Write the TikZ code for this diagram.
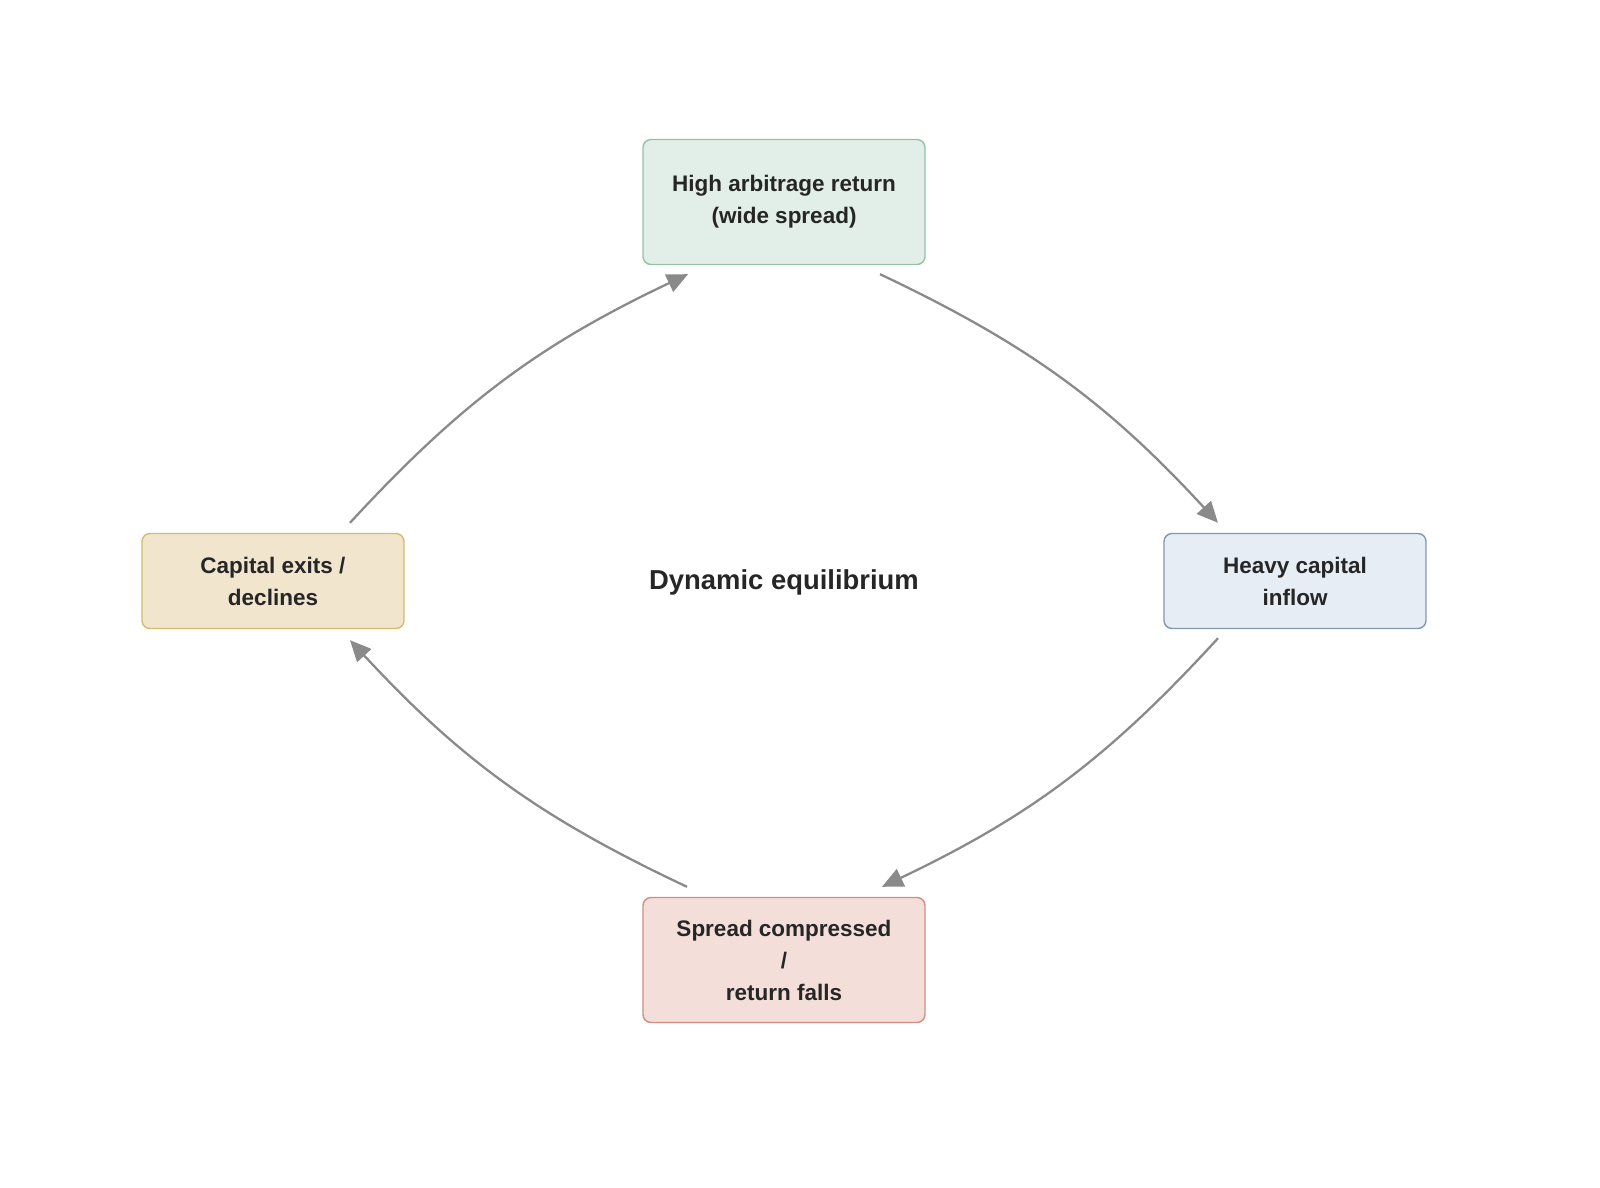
\documentclass[tikz,border=0pt]{standalone}
\usepackage{fontspec}
\setmainfont{Liberation Sans}
\usetikzlibrary{arrows.meta}
\definecolor{arrowgray}{HTML}{8A8A8A}
\definecolor{highfill}{HTML}{E2EFE8}\definecolor{highline}{HTML}{93C2A6}
\definecolor{inflowfill}{HTML}{E6EDF5}\definecolor{inflowline}{HTML}{8597AB}
\definecolor{spreadfill}{HTML}{F3DEDA}\definecolor{spreadline}{HTML}{D38C82}
\definecolor{exitsfill}{HTML}{F1E5CE}\definecolor{exitsline}{HTML}{D6BA6E}
\tikzset{
  box/.style={draw, rounded corners=0.08cm, line width=0.4pt, align=center,
    font=\bfseries\fontsize{6.4}{9.1}\selectfont, text=black!85, inner sep=0pt},
  flow/.style={draw=arrowgray, line width=0.65pt, -{Triangle[length=0.21cm,width=0.19cm]}}
}
\begin{document}
\begin{tikzpicture}
\useasboundingbox (0,0) rectangle (16,-11.87);
\node [box, minimum width=2.82cm, minimum height=1.25cm, fill=highfill, draw=highline] (high) at (7.84,-2.02) {High arbitrage return\\(wide spread)};
\node [box, minimum width=2.62cm, minimum height=0.95cm, fill=inflowfill, draw=inflowline] (inflow) at (12.95,-5.81) {Heavy capital\\inflow};
\node [box, minimum width=2.82cm, minimum height=1.25cm, fill=spreadfill, draw=spreadline] (spread) at (7.84,-9.60) {Spread compressed\\/\\return falls};
\node [box, minimum width=2.62cm, minimum height=0.95cm, fill=exitsfill, draw=exitsline] (exits) at (2.73,-5.81) {Capital exits /\\declines};
\node [font=\bfseries\fontsize{7.8}{9}\selectfont, text=black!85] (eq) at (7.84,-5.82) {Dynamic equilibrium};
% cycle
\draw [flow] ([xshift=0.96cm,yshift=-0.09cm]high.south) to [bend left=11] ([xshift=-0.77cm,yshift=0.1cm]inflow.north);
\draw [flow] ([xshift=-0.77cm,yshift=-0.09cm]inflow.south) to [bend left=11] ([xshift=0.98cm,yshift=0.1cm]spread.north);
\draw [flow] ([xshift=-0.97cm,yshift=0.1cm]spread.north) to [bend left=11] ([xshift=0.77cm,yshift=-0.11cm]exits.south);
\draw [flow] ([xshift=0.77cm,yshift=0.1cm]exits.north) to [bend left=11] ([xshift=-0.96cm,yshift=-0.09cm]high.south);
\end{tikzpicture}
\end{document}
